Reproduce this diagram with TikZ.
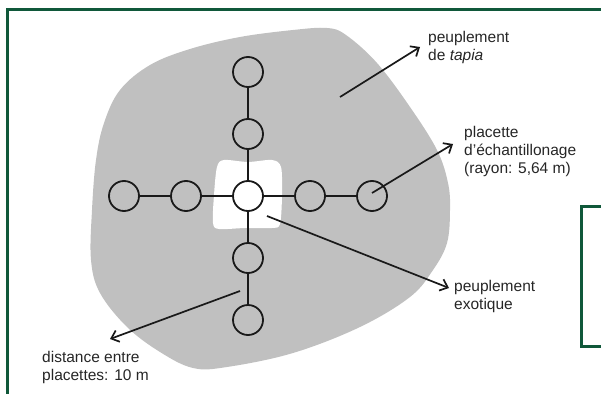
\documentclass[tikz,border=0pt]{standalone}
\usepackage{fontspec}
\setmainfont{Liberation Sans}
\usetikzlibrary{arrows.meta}
\definecolor{framegreen}{RGB}{16,88,58}
\definecolor{blobgray}{RGB}{192,192,192}
\definecolor{inkc}{RGB}{25,25,25}
\begin{document}
\begin{tikzpicture}[x=1pt,y=-1pt,
  plot/.style={circle,draw=inkc,line width=1.8pt,minimum size=30pt,inner sep=0pt},
  link/.style={draw=inkc,line width=1.8pt},
  pointer/.style={draw=inkc,line width=1.7pt,-{Straight Barb[length=7pt,width=12pt,line width=1.7pt]}},
  label/.style={anchor=north west,inner sep=0pt,align=left,text=black!85,font=\fontsize{15.5}{18}\selectfont},
  frameline/.style={draw=framegreen,line width=3pt}]
\useasboundingbox (0,0) rectangle (601,393);
% frame
\draw[frameline] (7,400) -- (7,9.5) -- (610,9.5);
\draw[frameline] (610,206) -- (581,206) -- (581,346.5) -- (610,346.5);
% stand of tapia
\fill[blobgray] plot[smooth cycle,tension=0.6] coordinates {
 (120,90) (150,65) (190,49) (240,37) (293,30) (327,28) (346,35) (377,63) (410,107)
 (437,150) (448,183) (450,210) (447,243) (433,270) (410,297) (360,327)
 (293,353) (227,367) (193,368) (160,352) (127,327) (100,293) (91,260)
 (92,210) (96,160) (104,123)};
% exotic patch
\fill[white] plot[smooth cycle,tension=0.5] coordinates {
 (224,160) (248,162) (272,160) (281,167) (282,195) (280,224) (272,228)
 (245,228) (219,229) (213,223) (214,195) (217,167)};
% plots
\node[plot,fill=white] (c0) at (248,196) {};
\node[plot] (n1) at (248,134) {};
\node[plot] (n2) at (248,72) {};
\node[plot] (s1) at (248,258) {};
\node[plot] (s2) at (248,320) {};
\node[plot] (w1) at (186,196) {};
\node[plot] (w2) at (124,196) {};
\node[plot] (e1) at (310,196) {};
\node[plot] (e2) at (372,196) {};
\draw[link] (c0) -- (n1); \draw[link] (n1) -- (n2);
\draw[link] (c0) -- (s1); \draw[link] (s1) -- (s2);
\draw[link] (c0) -- (w1); \draw[link] (w1) -- (w2);
\draw[link] (c0) -- (e1); \draw[link] (e1) -- (e2);
% labels
\node[label] (ltapia) at (428,31.5) {peuplement\\de \textit{tapia}};
\node[label] (lplac) at (464,126) {placette\\d’échantillonage\\(rayon: 5,64 m)};
\node[label] (lexo) at (454,280) {peuplement\\exotique};
\node[label] (ldist) at (42,351.5) {distance entre\\placettes: 10 m};
% arrows
\coordinate (a1s) at (340,97);  \coordinate (a1e) at (420,47);
\coordinate (a2s) at (372,193); \coordinate (a2e) at (453,144);
\coordinate (a3s) at (267,216); \coordinate (a3e) at (449,288);
\coordinate (a4s) at (240,291); \coordinate (a4e) at (110,339);
\draw[pointer] (a1s) -- (a1e);
\draw[pointer] (a2s) -- (a2e);
\draw[pointer] (a3s) -- (a3e);
\draw[pointer] (a4s) -- (a4e);
\end{tikzpicture}
\end{document}
